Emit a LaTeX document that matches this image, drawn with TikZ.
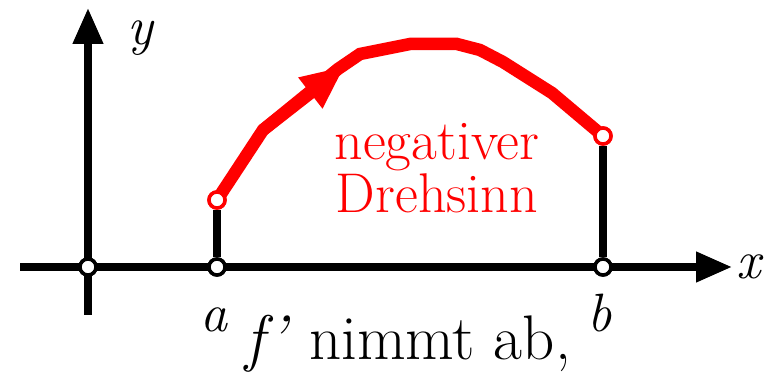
\documentclass[tikz,border=0pt]{standalone}
\usetikzlibrary{arrows.meta}
\definecolor{SenseRed}{RGB}{255,0,0}
\tikzset{
  axis/.style={draw=black,line width=7.5pt,-{Triangle[length=36pt,width=29pt]}},
  stem/.style={draw=black,line width=7.5pt},
  sense/.style={draw=SenseRed,line width=12.5pt},
  hole/.style={circle,draw=black,fill=white,line width=3.5pt,inner sep=0pt,minimum size=16pt},
  redhole/.style={hole,draw=SenseRed},
  lab/.style={font=\fontsize{54}{54}\selectfont\itshape,inner sep=0pt},
}
\tikzset{redtxt/.style={font=\fontsize{56}{56}\selectfont,text=SenseRed,inner sep=0pt},
  note/.style={font=\fontsize{63}{63}\selectfont,inner sep=0pt}}

\begin{document}
\begin{tikzpicture}[x=1pt,y=-1pt]
\useasboundingbox (0,0) rectangle (764,374);
\coordinate (xs) at (20,267);
\coordinate (xe) at (732,267);
\coordinate (ys) at (88,315);
\coordinate (ye) at (88,8);
\coordinate (c1) at (263,130);
\coordinate (c2) at (345,66);
\coordinate (c3) at (338,69);
\coordinate (c4) at (360,54);
\coordinate (c5) at (410,44);
\coordinate (c6) at (457,44);
\coordinate (c7) at (480,50);
\coordinate (c8) at (503,62);
\coordinate (c9) at (552,93);
\draw[axis] (xs)--(xe);
\draw[axis] (ys)--(ye);
\node[hole] (o) at (88,267) {};
\node[hole] (a) at (217,267) {};
\node[hole] (b) at (603,267) {};
\node[redhole] (fa) at (217,200) {};
\node[redhole] (fb) at (603,136) {};
\draw[stem] (a)--(fa);
\draw[stem] (b)--(fb);
% Kurve im negativen Drehsinn
\draw[sense] (fa.center)--(c1)--(c3)--(c4)--(c5)--(c6)--(c7)--(c8)--(c9)--(fb.center);
\draw[sense,-{Triangle[length=44pt,width=36pt]}] (c1)--(c2);
\node[hole] at (o) {};
\node[hole] at (a) {};
\node[hole] at (b) {};
\node[redhole] at (fa) {};
\node[redhole] at (fb) {};
\node[lab,anchor=base] (ly) at (140,45) {y};
\node[lab,anchor=base] (lx) at (749,279) {x};
\node[lab,anchor=base] (la) at (214,332) {a};
\node[lab,anchor=base] (lb) at (600,332) {b};
\node[redtxt,anchor=base] (t1) at (437,160) {negativer};
\node[redtxt,anchor=base] (t2) at (437,213) {Drehsinn};
\node[note,anchor=base] (t3) at (408,360) {\textit{f'} nimmt ab,};
\end{tikzpicture}
\end{document}
